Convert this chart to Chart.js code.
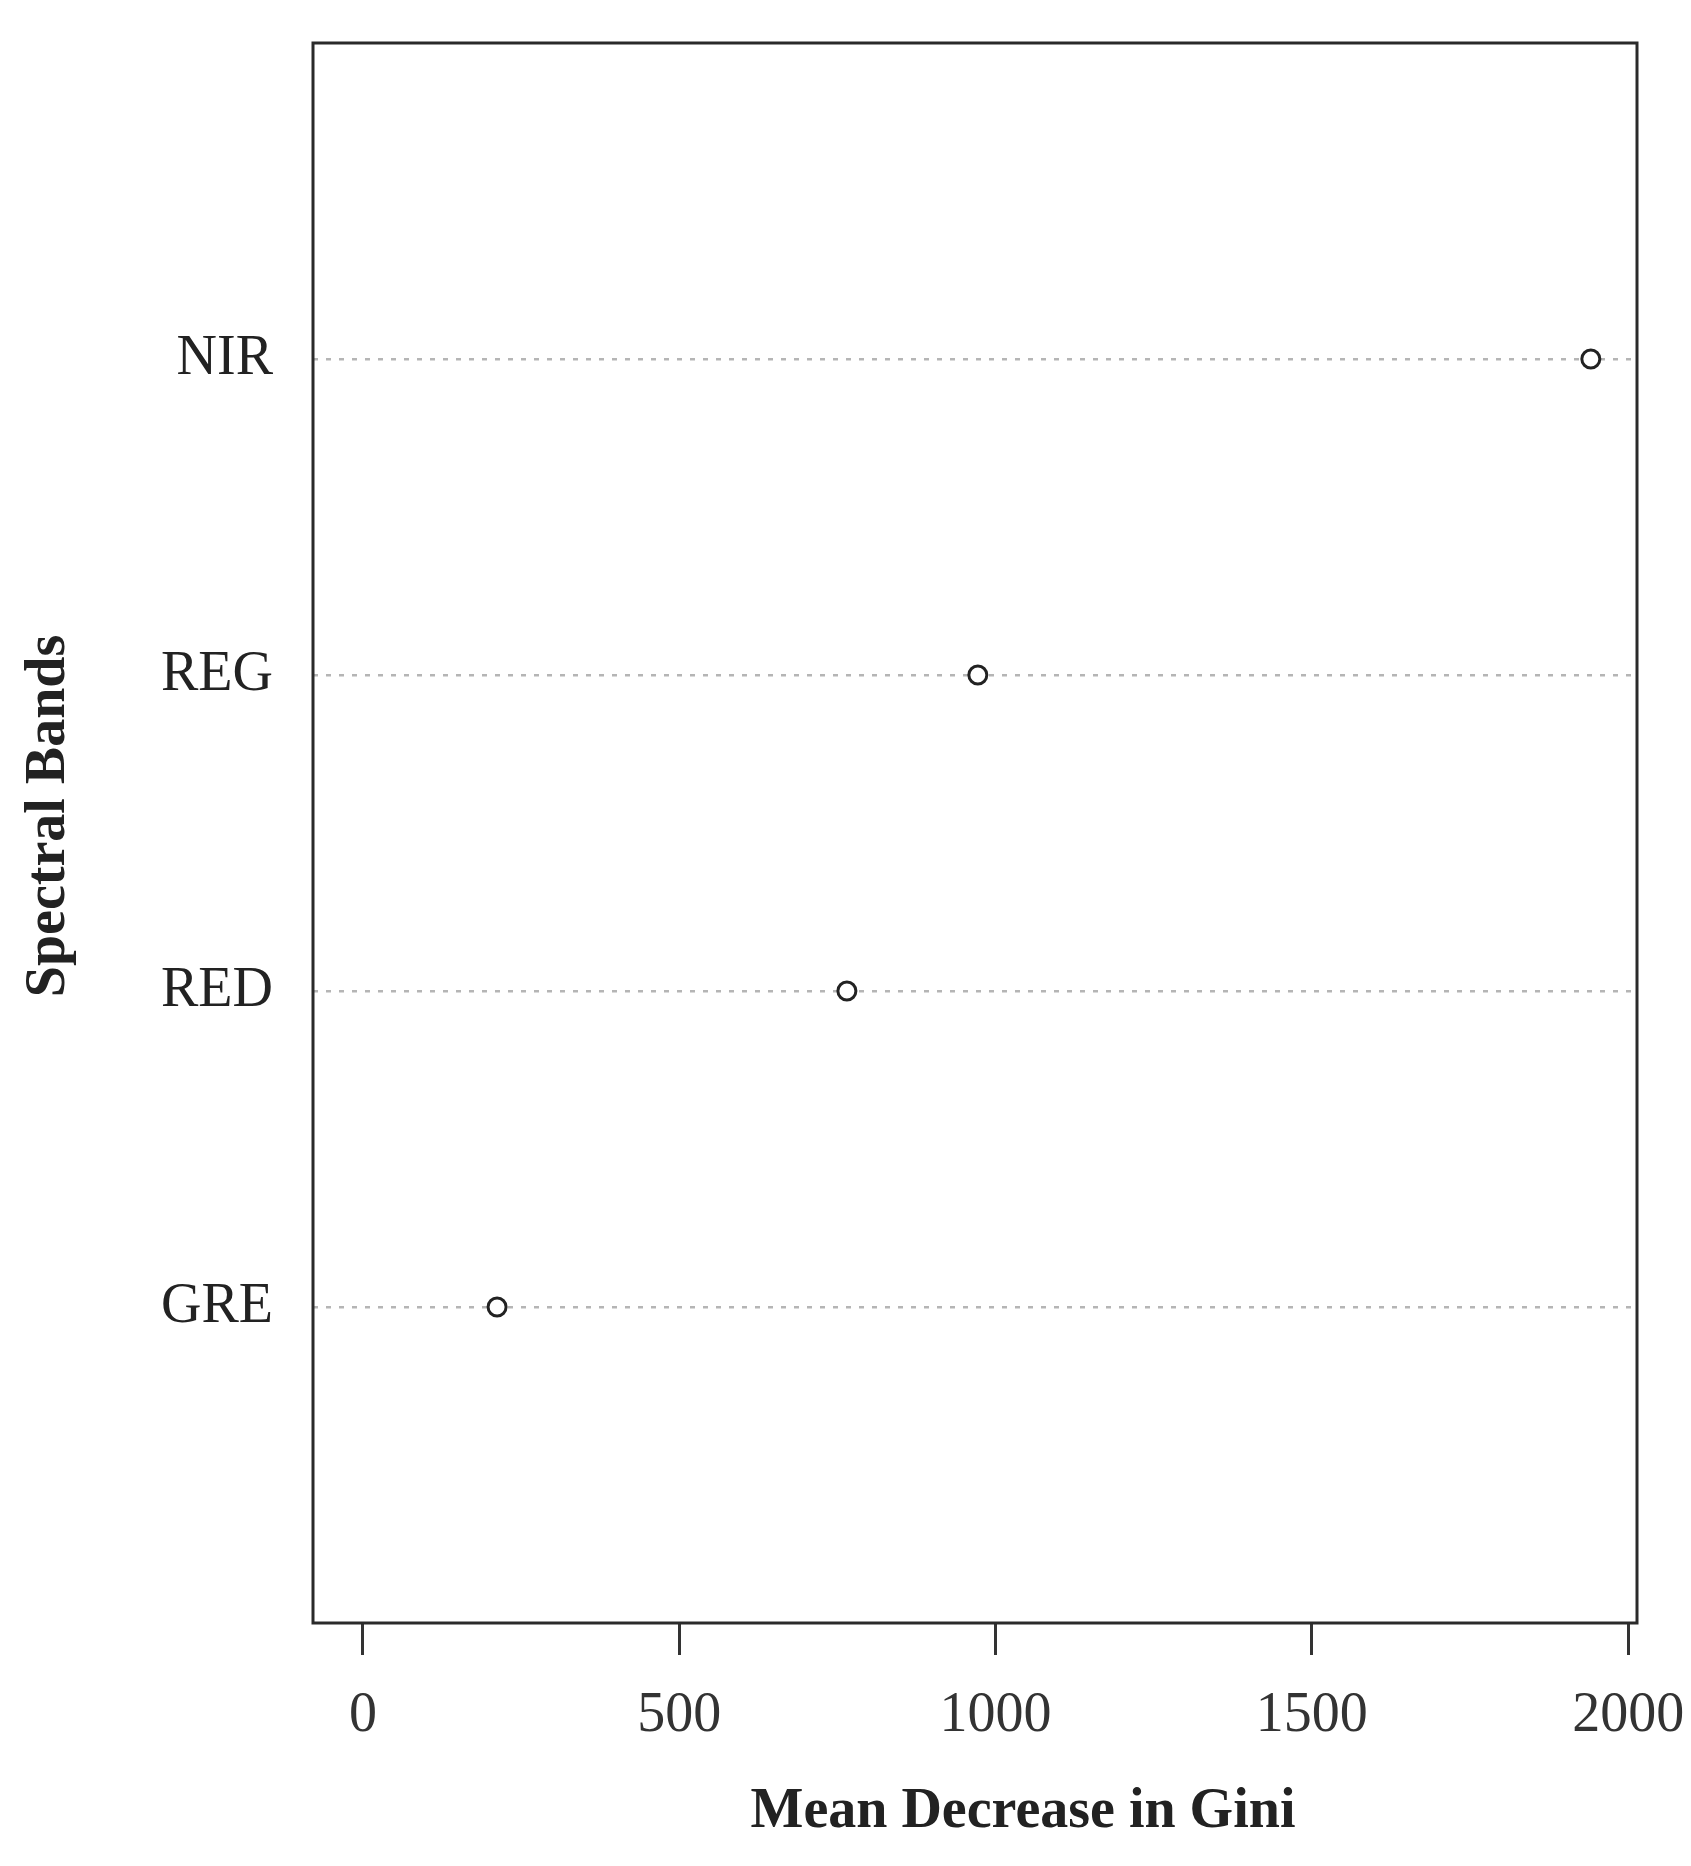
<!DOCTYPE html>
<html>
<head>
<meta charset="utf-8">
<script src="https://cdn.jsdelivr.net/npm/chart.js@4/dist/chart.umd.min.js"></script>
<style>
  html, body { margin: 0; padding: 0; background: #ffffff; }
  #wrap { width: 1691px; height: 1866px; position: relative; }
</style>
</head>
<body>
<div id="wrap"><canvas id="c"></canvas></div>
<script>
// ---- data ----
const categories = ['GRE', 'RED', 'REG', 'NIR'];          // bottom to top
const values = [212, 765, 972, 1941];                    // Mean Decrease in Gini
const xTickValues = [0, 500, 1000, 1500, 2000];
const xTitle = 'Mean Decrease in Gini';
const yTitle = 'Spectral Bands';

const FONT = '"Liberation Serif", "Times New Roman", serif';

const points = categories.map((c, i) => ({ x: values[i], y: i + 1 }));

const boxAndTitles = {
  id: 'boxAndTitles',
  afterDraw(chart) {
    const { ctx, chartArea: a } = chart;
    ctx.save();
    ctx.strokeStyle = '#2a2a2a';
    ctx.lineWidth = 3;
    ctx.strokeRect(a.left, a.top, a.right - a.left, a.bottom - a.top);

    ctx.fillStyle = '#222';
    ctx.font = 'bold 56px ' + FONT;
    ctx.textAlign = 'center';
    ctx.textBaseline = 'middle';
    ctx.fillText(xTitle, (a.left + a.right) / 2 + 48, 1813);

    ctx.translate(50, (a.top + a.bottom) / 2 - 17);
    ctx.rotate(-Math.PI / 2);
    ctx.fillText(yTitle, 0, 0);
    ctx.restore();
  }
};

new Chart(document.getElementById('c'), {
  type: 'scatter',
  data: {
    datasets: [{
      data: points,
      pointRadius: 9,
      pointHoverRadius: 9,
      pointBorderWidth: 3,
      pointBorderColor: '#222',
      pointBackgroundColor: '#fff',
      showLine: false
    }]
  },
  options: {
    responsive: true,
    maintainAspectRatio: false,
    animation: false,
    layout: { padding: { left: 0, top: 43, right: 54, bottom: 0 } },
    plugins: { legend: { display: false }, tooltip: { enabled: false }, title: { display: false } },
    scales: {
      x: {
        type: 'linear',
        min: -79,
        max: 2014,
        afterBuildTicks: (s) => { s.ticks = xTickValues.map(v => ({ value: v })); },
        afterFit: (s) => { s.height = 1866 - 1623; s.paddingLeft = 0; s.paddingRight = 0; },
        grid: {
          display: true,
          drawOnChartArea: false,
          drawTicks: true,
          tickLength: 32,
          tickColor: '#333',
          tickWidth: 3
        },
        border: { display: false },
        ticks: {
          color: '#333',
          padding: 28,
          maxRotation: 0,
          autoSkip: false,
          font: { family: FONT, size: 56 },
          callback: (v) => String(v)
        },
        title: { display: false }
      },
      y: {
        type: 'linear',
        min: 0,
        max: 5,
        afterBuildTicks: (s) => { s.ticks = categories.map((c, i) => ({ value: i + 1 })); },
        afterFit: (s) => { s.width = 313; s.paddingTop = 0; s.paddingBottom = 0; },
        grid: {
          display: true,
          drawOnChartArea: true,
          drawTicks: false,
          color: '#b5b5b5',
          lineWidth: 2.5
        },
        border: { display: false, dash: [5, 8] },
        ticks: {
          color: '#222',
          padding: 40,
          autoSkip: false,
          font: { family: FONT, size: 56 },
          callback: (v) => categories[v - 1]
        },
        title: { display: false }
      }
    }
  },
  plugins: [boxAndTitles]
});
</script>
</body>
</html>
